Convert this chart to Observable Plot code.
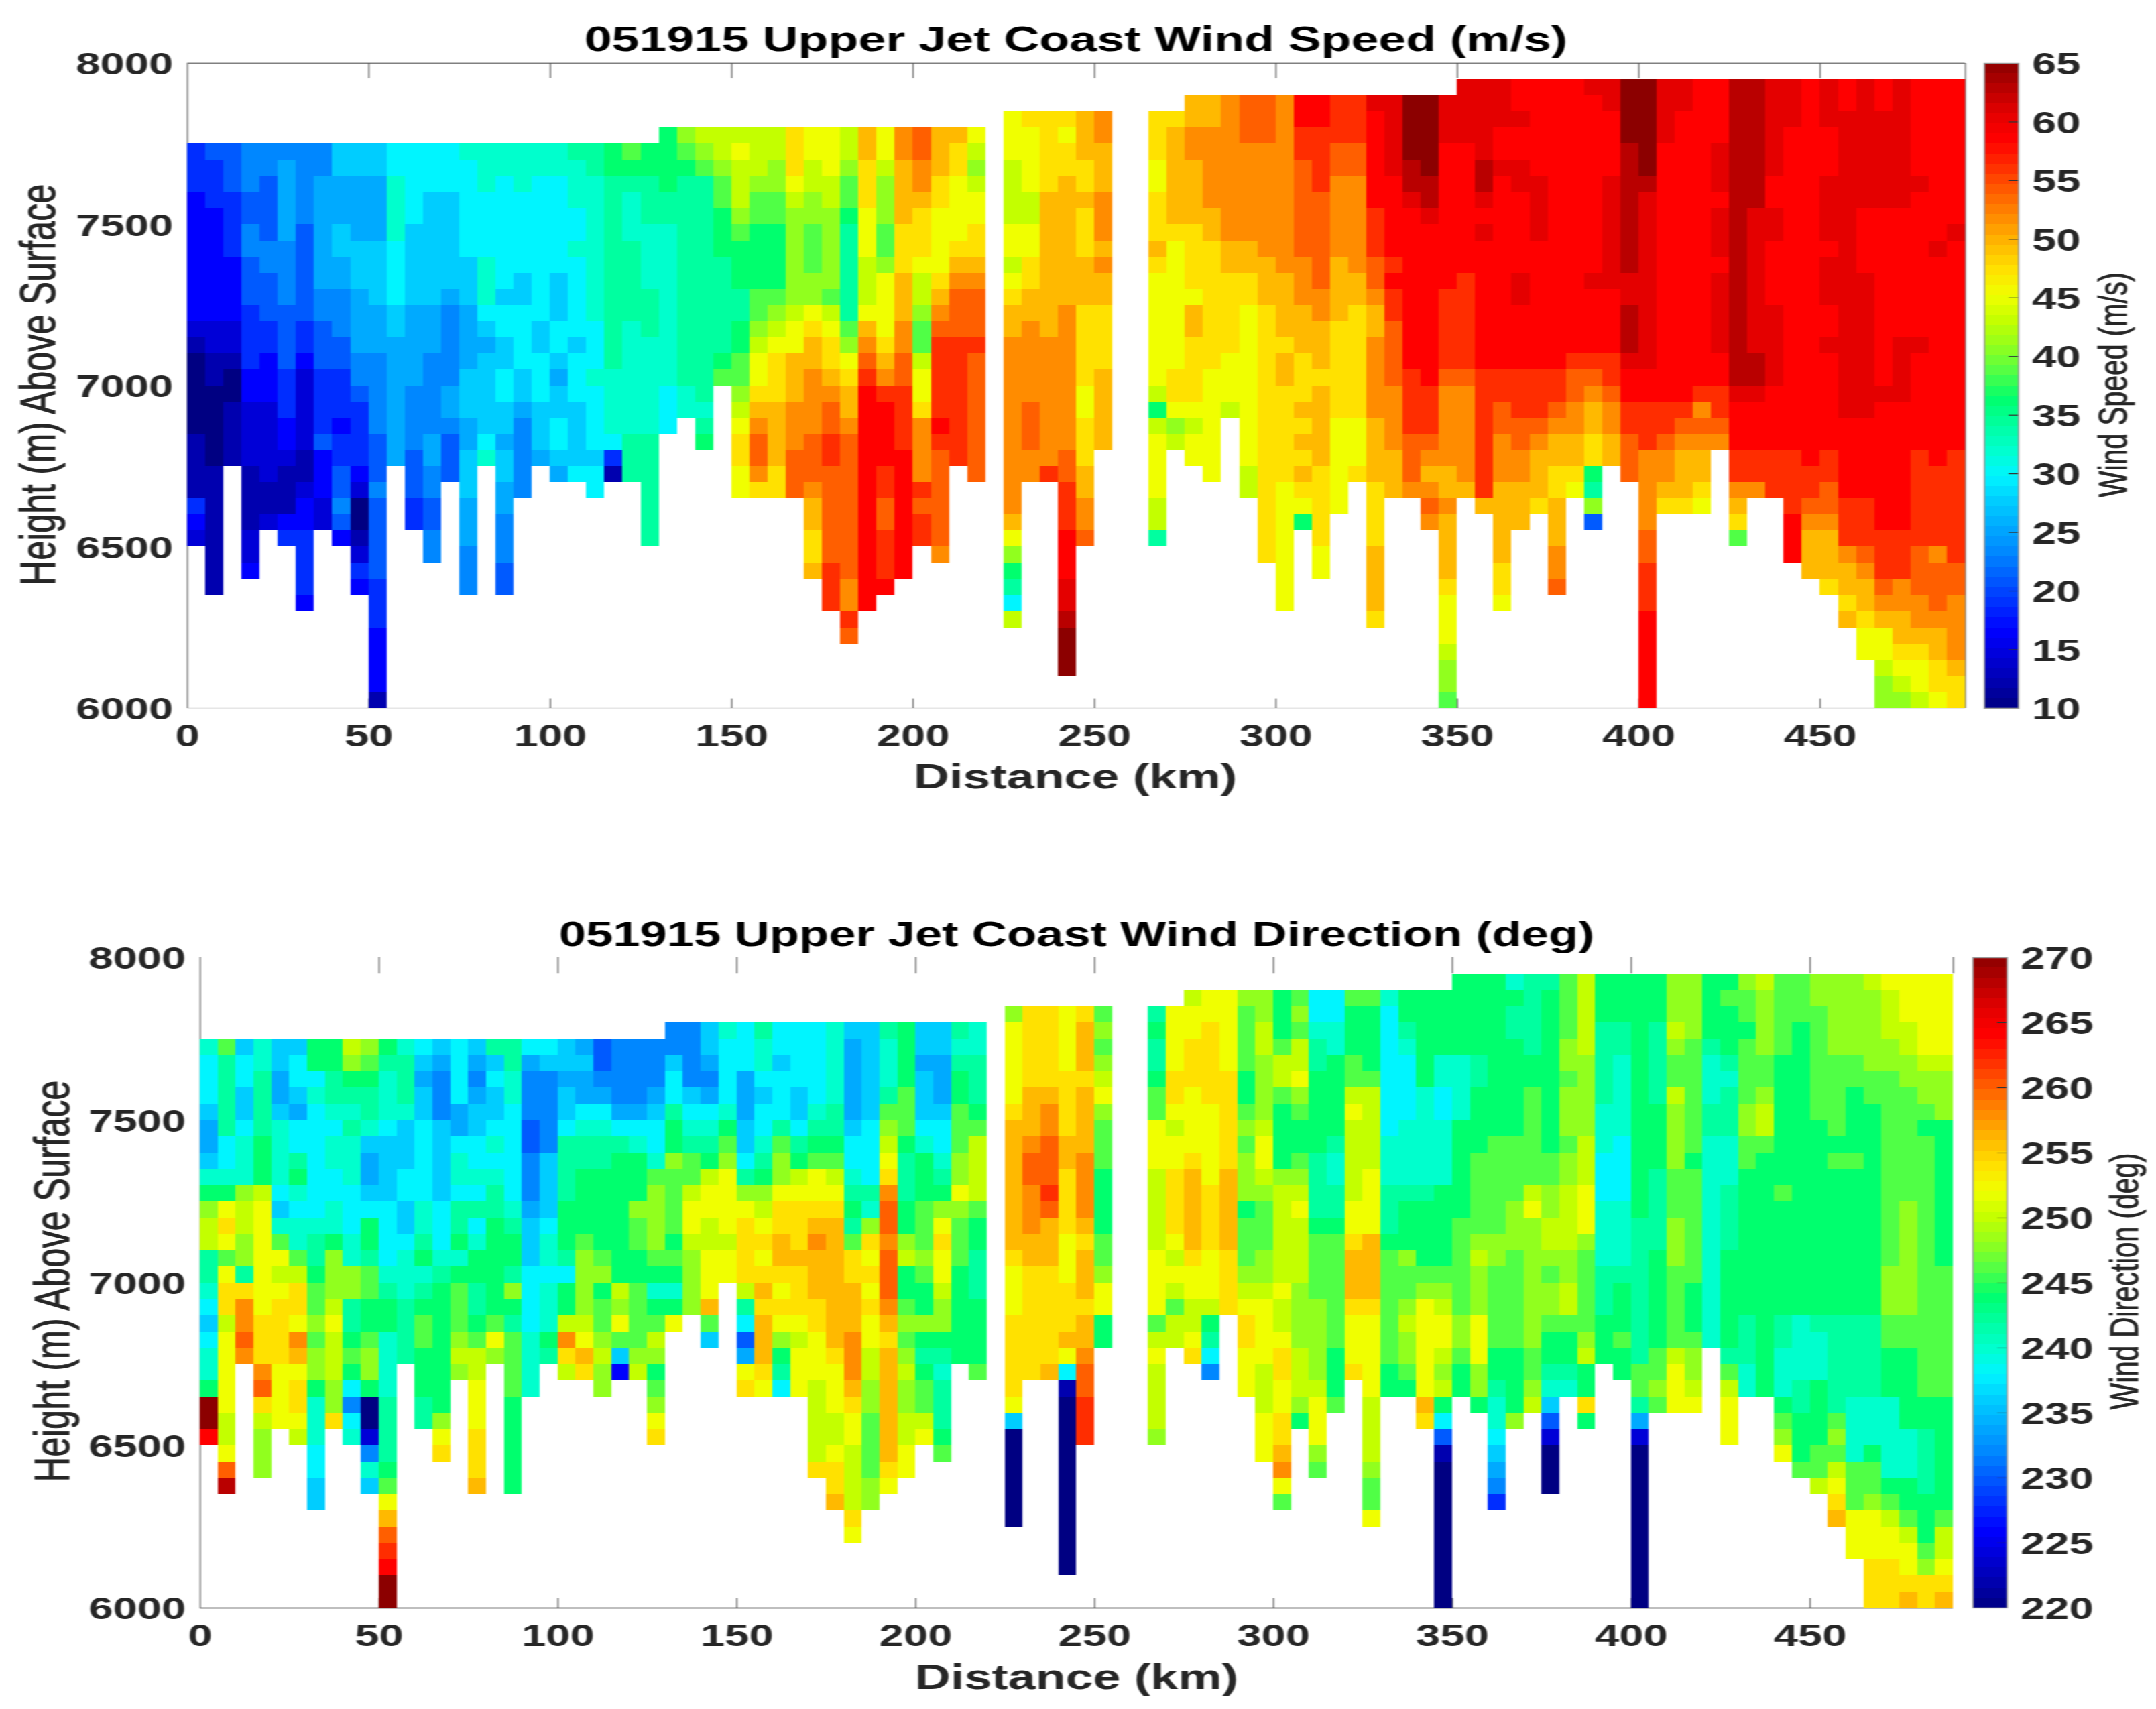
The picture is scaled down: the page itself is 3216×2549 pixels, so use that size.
<!DOCTYPE html>
<html>
<head>
<meta charset="utf-8">
<script src="https://cdn.jsdelivr.net/npm/d3@7"></script>
<script src="https://cdn.jsdelivr.net/npm/@observablehq/plot@0.6"></script>
<style>
html,body{margin:0;padding:0;background:#fff;overflow:hidden}
#page{position:absolute;left:0;top:0;width:2265px;height:2549px;transform-origin:0 0;transform:scaleX(1.42);font-family:"Liberation Sans",Arial,sans-serif;filter:blur(0.7px)}
#page svg{position:absolute;background:transparent;overflow:visible}
.t{position:absolute;white-space:nowrap;transform:translate(-50%,-50%);line-height:1}
.title{font-weight:bold;font-size:51.8px;color:#000}
.title2{font-size:51px}
.xl{font-weight:bold;font-size:51.8px;color:#262626}
.yl{font-weight:normal;font-size:52.3px;color:#262626;-webkit-text-stroke:0.8px #262626;transform:translate(-50%,-50%) rotate(-90deg)}
.cl{font-weight:normal;font-size:42px;color:#262626;-webkit-text-stroke:0.7px #262626;transform:translate(-50%,-50%) rotate(-90deg)}
</style>
</head>
<body>
<div id="page"></div>
<script>
// Colour levels, lowest to highest (a..z)
const levelCodes = "abcdefghijklmnopqrstuvwxyz";
const jetColors = ["rgb(0,0,130)","rgb(0,0,175)","rgb(0,0,215)","rgb(0,0,255)","rgb(0,45,255)","rgb(0,90,255)","rgb(0,135,255)","rgb(0,170,255)","rgb(0,205,255)","rgb(0,245,255)","rgb(0,255,205)","rgb(0,255,160)","rgb(0,255,110)","rgb(80,255,70)","rgb(145,255,30)","rgb(195,255,0)","rgb(240,255,0)","rgb(255,225,0)","rgb(255,185,0)","rgb(255,140,0)","rgb(255,95,0)","rgb(255,45,0)","rgb(255,0,0)","rgb(228,0,0)","rgb(185,0,0)","rgb(140,0,0)"];

// One string per 5 km column, top (7950 m) downward, in 50 m rows.
// Letter = level code, number = repeat count, "." = no data.
const speedColumns = [
".4e3d8cba5b4edc",".4fe3d7c2b2a5b8",".4f3e4d4c2ba2b4",".4g3f2g2f3e4d2c4b4c2d",".4g2f4g2f3e2d3c5b2c",".4gh5g4f4e3d2cb3de",
".4g5f6e2dc5b2cd2e4d",".4g2h7g2f3e4fd3c2",".4i2h3i2h2g3f2e3de2f2gfd",".4i2h4i3h4g2fe4dca2bced",".4i2h4i4h3g5f3gf5e3d4b",".4j2k4j4i2h8",
".4j5i5h5g4f3e2",".4j3i7h3g5h2g2f2g2",".4j3i6hg5h2gf3",".4kj6i3h4i3h2i3h3g3",".4k3j4k3jihi5jk",".4k2j7ij2i2j2i2hi2h2g3f2",
".4k3j5i2j4i2hg5",".4k2j9i2j3i3h",".4k2j6i3j2ihi2j2ih",".4lk3j2kj5ij3i4j",".4l2k9j3kj4ij2",".4m2l12k4jeb",
".4nmlk3l5k7l3",".4m2l3k4l3k6l7",".3m4l2k10j3",".3onml13k2",".3ponl14klm",".3p2on2m3l6mn",
".3pqp3onm3l2m2n2opqr2q2",".3p3on2m4n2opq2rstu2tr",".3p2o2n2m4nopqr3s4r2",".3r3qpo6pq2s3t3u3",".3q2p2o2n3o2qrs2t4u3ts2r2s",".3q3p2o5npqr2stu2v2u6v3",
".3p2on2ml6noqrs2tu9t2vu",".3s2r3q3p3qstuvw14",".3q2po3n2oq4rstvw4v2u2v3w",".3t2s4r3s3t2u2v4w8",".3u2t2sr3qp2on2pq2rt4vuv2",".3s3r2q4rstuv5wvu6t",
".3sr2q4rstu3v8",".3qpopq2r2stu3vu8","",".2q3p4q2pqrs2t11sqomljp",".2rq4p2q2r2s2t5u3t2",".2r5s9t8v",
".2rqr2s8t9u2v3w3x2yz3",".2s3r2sr3s3r5q2r3s2t2u",".2t2s3t3sts2r4s5","","",".2r3q2r3srq7pmpq4p2l",
".2rs6rq8r2qop",".s2t2s4r4qs2r4qpq2",".s2t5s2r8q7",".t9s2r5q3p",".u3t6s2r2q10p2",".u3t7s3r16",
".t11s4rs2r6q8",".w2v2u6t3s3r3srsrsrqm",".w2v4u6t2s3rs5r5q2",".v3u2t5s4r6q6",".v3u2t6s2r7q3r",".xw6v3u2ts2t5s4r4s4r",
".x5w5vwv2u4t4s3",".z4y2xw10v4u3t",".z5y2xw10v3utstut",".x3w9v5ut5s2ts4rq3po2n","x4w8v6ut6s","x5y2xwxw8v8s",
"x3w2xw12v2u2t3s5r2q","w2xw2x2w5x2w4v3u2t2s3","w6x4w8v3uts3r","w18v2uts2r2s3t2u","w17vu2t2s2rq","xw11xw4vuts2r2mlof",
"x2w4x7w4v2ut2s2","z4y8x2y3xw2v2u3","z6yx11w2v3t5u2v3w6","x4w16v2ut2sr","x2w18vuts3r","w19vtuts2rq",
"w4x3wx3wx5w2v2ut","y19xw3v2tsrn","y8x9y2xw3v2t","x6w2x2w4x5w4v3","x3w20v4w3","w24v2uts3",
"x3w3x4wx3w2xw6v2u2ts3r","w2x19w5v3ts2rs","x8w4x9w5v3uts2rq2","w2x6w11xw8v3utsq2po2","x8w8x4w8v3t2s2rqpo","w6xw9xw6v6u3t2srq2p",
"w10xw13v5tu3ts2r2q","w9xw13v7u2t4sr2"
];
const directionColumns = [
".4kj3ih2ikmop2l2kjijk2mz2w",".4nl5j2kmqrqnqr2pq5p2quy",".4ij2i2jk3op2o2lrt2ut",".4k2l4m3pq7r3turpo3",".4i2h2ik4jiknqpqr4q4",".4ij2ihj2lmkjk2npr2qtsqr2qp",
".4m2jkj7kl2mn2ono2mk3j2i2",".4m2l2kjk2j2k2mo3pqp3o2r",".4pomlklk3j3k2o2l2mnmjgjk",".4onml2kih2ijm2ln2m2no2ma2cgki",".4mlk3ji4j4klm2k4l4mnqsuvwz2",".4kl3ki3j2i2jk3l4",
".4jihi2j5k2lmklmn2m3l2",".4ihg3i5j3klm8oqr",".4j4h2jk2jl2mkmn3opo",".4ihghi2j2kjljkm2l2mnp2q3r3s",".4liji2jkjkl2m6nqo",".4l2k2j6klm2lomln4m6",
".4jhg3f2g3hi3j4k4",".4jig5i4jk2jk3ml",".4i2hi2jl4m3ljm2ptrp",".4hih2jkl2m4no4pqsr",".4f2ghjkl2m5nomn2opo2",".4g4hjlm8poqnid",
".4g4hjkm3on2m2n4op",".4g3hij2kno4nmkmnpomnoqr",".3g2ij2lm2on4mnmkmq",".3g4ijkln2pq2po4",".3i2hghjklmpq2p2q3sni",".3kj4kmnoq4pq2",
".3j3h3i2jloqr4pljfhqr",".3lk2jij2klmopqrqrsrs3rq",".3j2ij3lno2qr2s2rqrqomlj",".3j4i2jlmpqr3sr3qpq3",".3j5klmnq2rsts3r2q3p5r",".3k5l2mnpqrs8rq3p2qr2s",
".3ih5ij2klmlnr2s3t3srq2p4rq",".3i6j4lkorqrqrq2p2o2n4o2",".3lk3lnopqrtu2tu3tsrs7rq",".3m4n3ml3m2opm2nonopo2p2q2",".3i2hi3jkm3n3onm2omlmn2pq",".3i2h3ij2klmoqrq2po2mlkl3mn",
".3lklm2n3o2qon3m6",".3k2l3mnp4nm2l3m4n","",".2oq5rs8rq3r5qia6",".2r5s3tu2t3s2r7",".2r5st2u3vus3r6s",
".2q4r4s2r4q3r3sqjba11",".2rs3rs4t4srs3rs2tu2v3",".2nonopqon3m4n2oq2m2","","",".2lml2mn2q3p5q4npqp4o",
".2q4r2qpq2r4qpqpnp2",".pq2r3q4rs5rq2p2qr",".q2r5q5r4q3pmljg",".q5r6s5r4",".on4m2nono3mn3opqr2q3",".o2p2o4pq2pon3o2pq4p3q3",
".m3np2nm4op6qp2qr2q2r2stqn",".nonp2qonm2nopqp4o4p3om",".j2kl2m5l4mn4o5pq3on",".j2k2m5lk2l2mn7m3n",".nm3n2pqp5q2rs3rq3r",".nm4np5q4s4rq5p4on2q",
".kj8k3l3mn7m2",".m2lkj4k4lm3on2opo2nm",".m6k6lm4noq6sr",".m4k2j2k4m5nopq2popmjfba9","m5k4m6n6o2nm2","m5l2m4n5opo3q3o2m",
"m10n6o2n5m2lk2jihge","kml2m6n4o3n6m4o","l5m2n6pqo8n2op","lm10n2o2p2ono2nm2lkifca3","n4o2no3no2p4o2p2nm2lk","p5o5p3q3on5opm2rm",
"m3l5k3j3k4l3m3","m3l2k5j4k4lm3nm2","m15l9n2lhca10","m3l5m4l5m6n2on","o3pon2po4n3o3n5pq3","o4n7mn7m3no2pq",
"m4lk3l2k13","mnm3lkl3k3l4m6lnpq3","on2mn4o2n2m9l3k2","po4n2op2nm15","n5m8nm7l2k3mnoq","n3m18k4l2m3n",
"o2n7m12lk3m4n2p","o5n5mnm9l6nonpqrs","o5n2m4nm9l5k4n3q3","po5n2m13l5k3mn2oq3r3","qp3o2n12o3n2m3k5mnpq2r3","q3p2o2n7o7n2m5k3m2npq2rs",
"q5po2nmn16m2l4m3nor2","q5po3m9n8m7np2qrs"
];
const distanceTicks = [0,50,100,150,200,250,300,350,400,450];
const heightTicks = [6000,6500,7000,7500,8000];
const speedTicks = [10,15,20,25,30,35,40,45,50,55,60,65];
const directionTicks = [220,225,230,235,240,245,250,255,260,265,270];

const STRETCH = 1.42, CELL_KM = 5, CELL_M = 50, TOP_M = 7950, TICK_M = 30;
const page = document.getElementById("page");
const lx = v => v / STRETCH;

function decode(columns, lo, hi) {
  const cells = [];
  columns.forEach((s, c) => {
    let r = 0;
    for (const [, code, n] of s.matchAll(/([.a-z])(\d*)/g)) {
      for (let k = 0; k < (n ? +n : 1); k++, r++) {
        if (code === ".") continue;
        cells.push({
          x1: c * CELL_KM, x2: (c + 1) * CELL_KM,
          y1: TOP_M - (r + 1) * CELL_M, y2: TOP_M - r * CELL_M,
          value: lo + (hi - lo) * levelCodes.indexOf(code) / 25
        });
      }
    }
  });
  return cells;
}
function colorOf(lo, hi) {
  return {type: "linear", interpolate: "rgb", domain: jetColors.map((_, i) => lo + (hi - lo) * i / 25), range: jetColors};
}
function place(el, left, top) { el.style.left = left + "px"; el.style.top = top + "px"; page.appendChild(el); }
function label(text, cls, xFull, yFull) {
  const d = document.createElement("div");
  d.className = "t " + cls; d.textContent = text;
  place(d, lx(xFull), yFull);
}
const rootStyle = {fontFamily: "Liberation Sans", fontWeight: "bold", fontSize: "46px", color: "#262626"};

function panel(o) {
  const svgTop = o.top - 34, svgRight = o.right + 20, svgBottom = o.bottom + 70;
  const gray = "#808080";
  const marks = [
    Plot.axisX({anchor: "bottom", ticks: distanceTicks, tickSize: 0, tickPadding: 24, label: null, tickFormat: d => String(d), fontSize: 46, fontWeight: "bold"}),
    Plot.axisY({anchor: "left", ticks: heightTicks, tickSize: 0, tickPadding: 15, dy: 2, label: null, tickFormat: d => String(d), fontSize: 46, fontWeight: "bold"}),
    Plot.ruleY([6000], {stroke: o.baseStroke, strokeWidth: 2}),
    Plot.ruleX([0], {stroke: gray, strokeWidth: 1.5}),
    ...(o.boxed ? [Plot.ruleY([8000], {stroke: gray, strokeWidth: 2}), Plot.ruleX([490], {stroke: gray, strokeWidth: 1.5})] : []),
    Plot.ruleX(distanceTicks.slice(1), {y1: 6000, y2: 6000 + TICK_M, stroke: "#555", strokeWidth: 1.2}),
    Plot.ruleX(distanceTicks.slice(1).concat(o.boxed ? [] : [490]), {y1: 8000, y2: 8000 - TICK_M * 1.6, stroke: "#555", strokeWidth: 1.2}),
    Plot.rect(decode(o.columns, o.lo, o.hi), {x1: "x1", x2: "x2", y1: "y1", y2: "y2", fill: "value", shapeRendering: "crispEdges"})
  ];
  const heat = Plot.plot({
    width: lx(svgRight), height: svgBottom - svgTop,
    marginLeft: lx(o.left), marginRight: lx(svgRight - o.right),
    marginTop: o.top - svgTop, marginBottom: svgBottom - o.bottom,
    x: {domain: [0, 490]}, y: {domain: [6000, 8000]},
    color: colorOf(o.lo, o.hi), style: rootStyle, marks
  });
  place(heat, 0, svgTop);

  // colour bar
  const steps = d3.range(64).map(i => ({y1: o.lo + (o.hi - o.lo) * i / 64, y2: o.lo + (o.hi - o.lo) * (i + 1) / 64}));
  const barRight = 3216;
  const bar = Plot.plot({
    width: lx(barRight - o.barLeft + 10), height: svgBottom - svgTop,
    marginLeft: lx(10), marginRight: lx(barRight - o.barRight),
    marginTop: o.top - svgTop, marginBottom: svgBottom - o.bottom,
    x: {domain: [0, 1], axis: null}, y: {domain: [o.lo, o.hi]},
    color: colorOf(o.lo, o.hi), style: rootStyle,
    marks: [
      Plot.rect(steps, {x1: 0, x2: 1, y1: "y1", y2: "y2", fill: d => (d.y1 + d.y2) / 2, shapeRendering: "crispEdges"}),
      Plot.ruleY(o.ticks.slice(1, -1), {x1: 0.72, x2: 1, stroke: "#333", strokeWidth: 1.2}),
      Plot.frame({stroke: "#999", strokeWidth: 1.5}),
      Plot.axisY({anchor: "right", ticks: o.ticks, tickSize: 0, tickPadding: 14, dy: 2, label: null, tickFormat: d => String(d), fontSize: 46, fontWeight: "bold"})
    ]
  });
  place(bar, lx(o.barLeft - 10), svgTop);

  label(o.title, "title " + (o.titleClass || ""), o.titleX, o.titleY);
  label("Distance (km)", "xl", o.xLabelX, o.xLabelY);
  label("Height (m) Above Surface", "yl", o.yLabelX, o.midY);
  label(o.barLabel, "cl", o.barLabelX, o.barLabelY);
}

panel({
  columns: speedColumns, lo: 10, hi: 65, ticks: speedTicks, boxed: true, baseStroke: "#e6e6e6",
  left: 279, right: 2931, top: 94, bottom: 1056, barLeft: 2960, barRight: 3011,
  title: "051915 Upper Jet Coast Wind Speed (m/s)", titleX: 1605, titleY: 59,
  xLabelX: 1604, xLabelY: 1159, yLabelX: 57, midY: 574,
  barLabel: "Wind Speed (m/s)", barLabelX: 3152, barLabelY: 574
});
panel({
  columns: directionColumns, lo: 220, hi: 270, ticks: directionTicks, boxed: false, baseStroke: "#808080",
  left: 298, right: 2913, top: 1428, bottom: 2398, barLeft: 2943, barRight: 2994,
  title: "051915 Upper Jet Coast Wind Direction (deg)", titleClass: "title2", titleX: 1606, titleY: 1393,
  xLabelX: 1606, xLabelY: 2502, yLabelX: 78, midY: 1911,
  barLabel: "Wind Direction (deg)", barLabelX: 3169, barLabelY: 1911
});
</script>
</body>
</html>
